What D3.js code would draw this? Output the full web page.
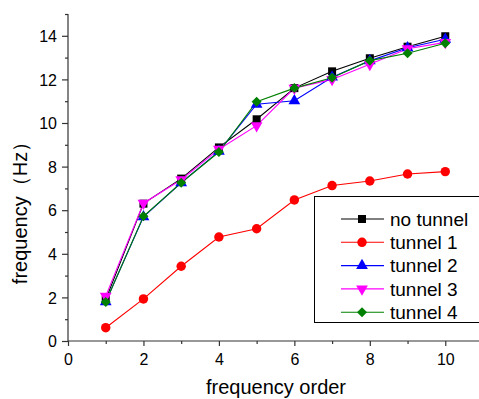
<!DOCTYPE html>
<html>
<head>
<meta charset="utf-8">
<script src="https://cdn.jsdelivr.net/npm/d3@7"></script>
<style>
  body { margin: 0; background: #fff; }
  svg { display: block; font-family: "Liberation Sans", Arial, sans-serif; }
</style>
</head>
<body>
<svg id="chart" width="479" height="399"></svg>
<script>
const orders = [1, 2, 3, 4, 5, 6, 7, 8, 9, 10];
const noTunnel = [1.9, 6.3, 7.45, 8.88, 10.17, 11.6, 12.37, 12.97, 13.5, 13.98];
const tunnel1 = [0.61, 1.93, 3.43, 4.77, 5.15, 6.47, 7.13, 7.34, 7.66, 7.77];
const tunnel2 = [1.8, 5.7, 7.26, 8.7, 10.86, 11.02, 12.1, 12.85, 13.45, 13.84];
const tunnel3 = [2.06, 6.32, 7.4, 8.8, 9.88, 11.6, 12.0, 12.69, 13.41, 13.7];
const tunnel4 = [1.79, 5.72, 7.26, 8.67, 10.98, 11.6, 12.08, 12.86, 13.2, 13.66];
const seriesNames = ["no tunnel", "tunnel 1", "tunnel 2", "tunnel 3", "tunnel 4"];
const xTicks = [0, 2, 4, 6, 8, 10];
const yTicks = [0, 2, 4, 6, 8, 10, 12, 14];

const series = [
  {name: seriesNames[0], values: noTunnel, color: "#000000", symbol: d3.symbolSquare, size: 64, rot: 0},
  {name: seriesNames[1], values: tunnel1, color: "#ff0000", symbol: d3.symbolCircle, size: 70, rot: 0},
  {name: seriesNames[2], values: tunnel2, color: "#0000ff", symbol: d3.symbolTriangle, size: 60, rot: 0},
  {name: seriesNames[3], values: tunnel3, color: "#ff00ff", symbol: d3.symbolTriangle, size: 60, rot: 180},
  {name: seriesNames[4], values: tunnel4, color: "#008000", symbol: d3.symbolSquare, size: 50, rot: 45}
];

const svg = d3.select("#chart");
const x = d3.scaleLinear().domain([0, 11]).range([68, 483]);
const y = d3.scaleLinear().domain([0, 15]).range([341, 14]);

// x axis
const xAxis = svg.append("g").attr("transform", "translate(0," + y(0) + ")");
xAxis.call(d3.axisBottom(x).tickValues(d3.range(0, 12)).tickSize(5).tickFormat(""));
xAxis.selectAll(".tick line").attr("y2", (d) => d % 2 === 0 ? 5 : 3);
xAxis.select(".domain").attr("d", "M" + x(0) + ",0H479");
xAxis.selectAll(".tick").filter(d => xTicks.includes(d)).append("text")
  .attr("y", 24).attr("fill", "#000").attr("text-anchor", "middle")
  .style("font-size", "16px").text(d => d);

// y axis
const yAxis = svg.append("g").attr("transform", "translate(" + x(0) + ",0)");
yAxis.call(d3.axisLeft(y).tickValues(d3.range(0, 16)).tickSize(6).tickFormat(""));
yAxis.selectAll(".tick line").attr("x2", (d) => d % 2 === 0 ? -6 : -3);
yAxis.select(".domain").attr("d", "M0," + y(15) + "V" + y(0));
yAxis.selectAll(".tick").filter(d => yTicks.includes(d)).append("text")
  .attr("x", -11).attr("dy", "0.35em").attr("fill", "#000").attr("text-anchor", "end")
  .style("font-size", "16px").text(d => d);
svg.selectAll(".domain, .tick line").attr("stroke", "#333").attr("stroke-width", 1.2);

// titles
svg.append("text").attr("x", 276).attr("y", 394).attr("text-anchor", "middle")
  .style("font-size", "20px").text("frequency order");
svg.append("text").attr("transform", "translate(27,208) rotate(-90)").attr("text-anchor", "middle")
  .style("font-size", "20px").text("frequency（Hz）");

// lines and markers
const line = d3.line().x((d, i) => x(orders[i])).y(d => y(d));
series.forEach(s => {
  svg.append("path").datum(s.values).attr("d", line)
    .attr("fill", "none").attr("stroke", s.color).attr("stroke-width", 1.1);
});
series.forEach(s => {
  svg.append("g").selectAll("path").data(s.values).enter().append("path")
    .attr("d", d3.symbol().type(s.symbol).size(s.size))
    .attr("transform", (d, i) => "translate(" + x(orders[i]) + "," + y(d) + ") rotate(" + s.rot + ")")
    .attr("fill", s.color);
});

// legend
const legend = svg.append("g");
legend.append("rect").attr("x", 314.5).attr("y", 196.5).attr("width", 180).attr("height", 126)
  .attr("fill", "#fff").attr("stroke", "#000").attr("stroke-width", 1);
series.forEach((s, i) => {
  const ly = 219 + i * 23.3;
  legend.append("line").attr("x1", 341).attr("x2", 384).attr("y1", ly).attr("y2", ly)
    .attr("stroke", s.color).attr("stroke-width", 1.1);
  legend.append("path").attr("d", d3.symbol().type(s.symbol).size(s.size))
    .attr("transform", "translate(362," + ly + ") rotate(" + s.rot + ")").attr("fill", s.color);
  legend.append("text").attr("x", 390).attr("y", ly).attr("dy", "0.35em")
    .style("font-size", "19px").text(s.name);
});
</script>
</body>
</html>
